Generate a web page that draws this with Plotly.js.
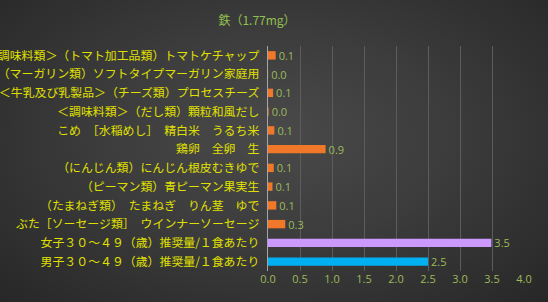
<!DOCTYPE html>
<html><head><meta charset="utf-8">
<script src="https://cdn.plot.ly/plotly-3.0.1.min.js"></script>
<style>
html,body{margin:0;padding:0;}
body{width:548px;height:302px;overflow:hidden;background:radial-gradient(ellipse at 50% 45%, #4a4a4a 0%, #3c3c3c 45%, #272727 100%);}
#chart{width:548px;height:302px;}
</style></head>
<body><div id="chart"></div>
<script>
const categories = [
  "＜調味料類＞（トマト加工品類）トマトケチャップ",
  "（マーガリン類）ソフトタイプマーガリン家庭用",
  "＜牛乳及び乳製品＞（チーズ類）プロセスチーズ",
  "＜調味料類＞（だし類）顆粒和風だし",
  "こめ　［水稲めし］　精白米　うるち米",
  "鶏卵　全卵　生",
  "（にんじん類）にんじん根皮むきゆで",
  "（ピーマン類）青ピーマン果実生",
  "（たまねぎ類）　たまねぎ　りん茎　ゆで",
  "ぶた［ソーセージ類］　ウインナーソーセージ",
  "女子３０～４９（歳）推奨量/１食あたり",
  "男子３０～４９（歳）推奨量/１食あたり"
];
const values = [0.12, 0.003, 0.08, 0.01, 0.1, 0.9, 0.09, 0.07, 0.13, 0.27, 3.49, 2.5];
const barColors = ["#f07828","#f07828","#f07828","#f07828","#f07828","#f07828","#f07828","#f07828","#f07828","#f07828","#cc99ff","#00b0f0"];
const titleText = "鉄（1.77mg）";

const trace = {
  type: "bar", orientation: "h",
  x: values, y: categories,
  marker: {color: barColors},
  width: 0.45,
  text: values.map(v => v.toFixed(1)),
  textposition: "outside",
  constraintext: "none",
  textfont: {family: "Open Sans, sans-serif", size: 11, color: "#9bbb59"},
  cliponaxis: false,
  hoverinfo: "none"
};
const layout = {
  width: 548, height: 302,
  paper_bgcolor: "rgba(0,0,0,0)", plot_bgcolor: "rgba(0,0,0,0)",
  margin: {l: 268, r: 24, t: 46, b: 31},
  showlegend: false,
  title: {text: titleText, x: 257/548, xanchor: "center", y: 0.93, yanchor: "middle",
          font: {family: "Noto Sans CJK JP, sans-serif", size: 12, color: "#92c050"}},
  xaxis: {range: [0, 4], dtick: 0.5, tickformat: ".1f", showgrid: true,
          gridcolor: "#5c5c5c", gridwidth: 1, zeroline: false, showline: false,
          ticks: "", tickfont: {family: "Open Sans, sans-serif", size: 11, color: "#9bbb59"}},
  yaxis: {autorange: "reversed", type: "category", showgrid: false, zeroline: false,
          showline: true, linecolor: "#a6a6a6", linewidth: 1, ticks: "",
          ticksuffix: "  ",
          tickfont: {family: "Noto Sans CJK JP, sans-serif", size: 11.9, color: "#e0e000"}},
  bargap: 0.55
};
Plotly.newPlot("chart", [trace], layout, {displayModeBar: false, staticPlot: true});
</script></body></html>
